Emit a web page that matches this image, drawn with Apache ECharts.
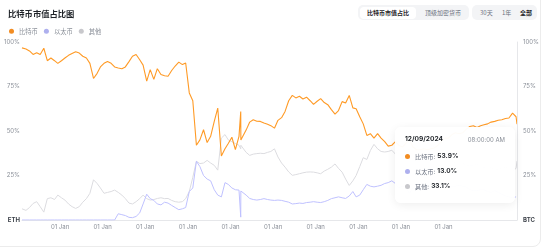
<!DOCTYPE html>
<html>
<head>
<meta charset="utf-8">
<script src="https://cdn.jsdelivr.net/npm/echarts@6/dist/echarts.min.js"></script>
<style>
  html, body { margin: 0; padding: 0; background: #fff; }
  body { width: 545px; height: 252px; position: relative; overflow: hidden; font-family: Inter, "Noto Sans CJK SC", sans-serif; }
  .card { position: absolute; left: -10px; top: -10px; width: 551px; height: 257px; border: 1px solid #ececec; border-radius: 8px; box-sizing: border-box; }
  #chart { position: absolute; left: 0; top: 0; width: 545px; height: 252px; z-index: 1; }
  .seg { position: absolute; top: 5px; height: 15px; background: #f3f4f6; border-radius: 5px; z-index: 2; }
  .seg span { position: absolute; top: 0; line-height: 15px; font-size: 6px; color: #6b7280; white-space: nowrap; font-family: "Noto Sans CJK SC", sans-serif; }
  .seg .on { color: #1f2328; font-weight: 700; }
  .seg .chip { position: absolute; top: 1.5px; height: 12px; background: #fff; border-radius: 4px; }
</style>
</head>
<body>
<div class="card"></div>
<div id="chart"></div>
<div class="seg" style="left:358px;width:111px;">
  <div class="chip" style="left:2px;width:56px;"></div>
  <span class="on" style="left:9px;">比特币市值占比</span>
  <span style="left:67px;">顶级加密货币</span>
</div>
<div class="seg" style="left:472px;width:65px;">
  <span style="left:8px;">30天</span>
  <span style="left:30px;">1年</span>
  <span class="on" style="left:48px;">全部</span>
</div>
<script>
// monthly samples (plus a one-day glitch in June 2018 and the last day)
var dates = [
  '2013-04-28', '2013-06-01', '2013-07-01', '2013-08-01', '2013-09-01', '2013-10-01', '2013-11-01', '2013-12-01',
  '2014-01-01', '2014-02-01', '2014-03-01', '2014-04-01', '2014-05-01', '2014-06-01', '2014-07-01', '2014-08-01', '2014-09-01', '2014-10-01', '2014-11-01', '2014-12-01',
  '2015-01-01', '2015-02-01', '2015-03-01', '2015-04-01', '2015-05-01', '2015-06-01', '2015-07-01', '2015-08-01', '2015-09-01', '2015-10-01', '2015-11-01', '2015-12-01',
  '2016-01-01', '2016-02-01', '2016-03-01', '2016-04-01', '2016-05-01', '2016-06-01', '2016-07-01', '2016-08-01', '2016-09-01', '2016-10-01', '2016-11-01', '2016-12-01',
  '2017-01-01', '2017-02-01', '2017-03-01', '2017-04-01', '2017-05-01', '2017-06-01', '2017-07-01', '2017-08-01', '2017-09-01', '2017-10-01', '2017-11-01', '2017-12-01',
  '2018-01-01', '2018-02-01', '2018-03-01', '2018-04-01', '2018-05-01', '2018-06-01', '2018-06-15', '2018-06-16', '2018-06-17', '2018-07-01', '2018-08-01', '2018-09-01', '2018-10-01', '2018-11-01', '2018-12-01',
  '2019-01-01', '2019-02-01', '2019-03-01', '2019-04-01', '2019-05-01', '2019-06-01', '2019-07-01', '2019-08-01', '2019-09-01', '2019-10-01', '2019-11-01', '2019-12-01',
  '2020-01-01', '2020-02-01', '2020-03-01', '2020-04-01', '2020-05-01', '2020-06-01', '2020-07-01', '2020-08-01', '2020-09-01', '2020-10-01', '2020-11-01', '2020-12-01',
  '2021-01-01', '2021-02-01', '2021-03-01', '2021-04-01', '2021-05-01', '2021-06-01', '2021-07-01', '2021-08-01', '2021-09-01', '2021-10-01', '2021-11-01', '2021-12-01',
  '2022-01-01', '2022-02-01', '2022-03-01', '2022-04-01', '2022-05-01', '2022-06-01', '2022-07-01', '2022-08-01', '2022-09-01', '2022-10-01', '2022-11-01', '2022-12-01',
  '2023-01-01', '2023-02-01', '2023-03-01', '2023-04-01', '2023-05-01', '2023-06-01', '2023-07-01', '2023-08-01', '2023-09-01', '2023-10-01', '2023-11-01', '2023-12-01',
  '2024-01-01', '2024-02-01', '2024-03-01', '2024-04-01', '2024-05-01', '2024-06-01', '2024-07-01', '2024-08-01', '2024-09-01', '2024-10-01', '2024-11-01', '2024-12-01',
  '2024-12-09'
]

var btcShare = [
  96.7, 96.1, 95, 93, 94, 93, 96.5, 89.5,
  91, 89.5, 88, 89.5, 91, 92.5, 93.5, 94.5, 93.8, 92, 91, 88,
  79.5, 82.4, 86, 88, 89, 88, 86, 85.4, 85, 86, 89, 92,
  93, 90, 87, 78, 84.5, 79, 85, 81.7, 81, 80.8, 84, 86.5,
  88.7, 87.3, 88.2, 71.4, 67, 42, 45, 50.7, 43.5, 47, 55.4, 62.9,
  36, 40, 43, 46.5, 39.5, 47, 46, 61, 45, 45, 50.5, 55, 56.3, 55.5, 55.4,
  54.5, 53.8, 53, 51.6, 56, 57.5, 61, 67, 70, 68.6, 69.5, 68,
  69, 67, 65, 66.7, 68.2, 66, 64.8, 62, 59.5, 61.5, 66.5, 65.7,
  70, 63, 62.5, 58, 54, 47.5, 48.5, 46, 48.5, 46, 44, 41.5,
  42, 44, 42, 41, 43, 45, 41, 39.5, 39.5, 40, 39.5, 40,
  40.5, 42, 44, 46, 46, 48, 49, 48.5, 49, 51, 52.5, 53,
  52, 53, 53.5, 54, 55, 55.4, 56, 56.3, 57, 57.3, 60, 58,
  53.9
]

var ethShare = [
  0, 0, 0, 0, 0, 0, 0, 0,
  0, 0, 0, 0, 0, 0, 0, 0, 0, 0, 0, 0,
  0, 0, 0, 0, 0, 0, 0, 3.5, 3, 2.5, 1.5, 1.3,
  2, 4, 9, 14.5, 12, 11, 9, 8.5, 10, 9.5, 8.2, 7,
  5.8, 6.3, 7, 16, 18, 33, 30, 25, 23, 22, 17, 14,
  13, 21, 20, 18, 17, 16.8, 16.5, 1.6, 16.3, 16, 14, 12.1, 11.5, 11.2, 11.5,
  12, 11.5, 11.2, 11, 11.2, 11, 10.5, 10, 9, 9.2, 9.5, 9.3,
  9.8, 10, 10.3, 10, 9.8, 10.3, 11, 12, 12.5, 13, 12.5, 12.1,
  13.5, 16, 13, 14, 17, 20, 19, 18.6, 19, 19.5, 20.5, 21,
  22, 20.5, 18, 19, 18.5, 15, 18, 20, 17, 17, 18, 18,
  18.5, 19, 19, 19.5, 19, 19, 19, 19.5, 19, 18.5, 17, 16.5,
  16.5, 17, 17, 16, 15.5, 16.5, 15.5, 14.5, 13.5, 13, 12.5, 13,
  13.0
]

var otherShare = [
  6.3, 5.4, 7, 9.3, 10.3, 7.5, 4.4, 12,
  12.5, 11.5, 14, 12.5, 11.2, 9, 7.5, 6.5, 7.5, 10, 12, 15,
  22.6, 20.5, 18, 15, 15.5, 16, 16.8, 15.5, 14, 12, 9.5, 9,
  10.3, 12, 14, 12, 11.2, 11.5, 12.1, 12.5, 12, 12.1, 11, 10.3,
  10, 10.3, 12, 16, 24, 33, 31.7, 32, 33.5, 32, 30.7, 28,
  46, 48, 45, 44, 43, 42, 42, 40, 42, 41, 38, 36.3, 37, 37.3, 37.5,
  37.3, 38, 38.5, 40, 35.4, 32, 29.7, 27, 25.1, 25.5, 26, 26.5,
  26.9, 27, 26.9, 26.5, 26, 27.5, 28.5, 29.7, 31.5, 29, 26.9, 23,
  19.4, 22, 25, 30, 35, 34, 39, 42.5, 40, 38.5, 38.2, 38.5,
  39.2, 37, 40, 40, 38.5, 40, 41, 40.5, 43.5, 43, 42.5, 42,
  41, 39, 37, 34.5, 35, 33, 32, 32, 32, 30.5, 30.5, 30.5,
  31.5, 30, 29.5, 30, 29.5, 28, 28.5, 29.2, 29.5, 29.7, 27.5, 29,
  33.1
]

var seriesNames = ['比特币', '以太币', '其他']
var seriesColors = ['#f28c22', '#aeb0ee', '#c8c8cc']
var tipTime = '08:00:00 AM'

var chart = echarts.init(document.getElementById('chart'))

function pairs(values) {
  return dates.map(function (d, i) { return [d, values[i]] })
}

function tipHtml(idx) {
  var parts = dates[idx].split('-')
  var vals = [btcShare[idx], ethShare[idx], otherShare[idx]]
  var html = '<div style="width:100px;font-family:Inter,\'Noto Sans CJK SC\',sans-serif;">' +
    '<div style="display:flex;justify-content:space-between;align-items:center;height:12px;margin-bottom:3.5px;">' +
    '<span style="font-size:6.6px;font-weight:700;color:#1f2328;">' + parts[1] + '/' + parts[2] + '/' + parts[0] + '</span>' +
    '<span style="font-size:6px;color:#8a8f98;">' + tipTime + '</span></div>'
  for (var k = 0; k < 3; k++) {
    html += '<div style="display:flex;align-items:center;height:15px;">' +
      '<span style="display:inline-block;width:5px;height:5px;border-radius:50%;background:' + seriesColors[k] + ';margin-right:5px;"></span>' +
      '<span style="font-size:6.2px;color:#6b7280;">' + seriesNames[k] + ':</span>' +
      '<span style="font-size:6.5px;font-weight:700;color:#1f2328;margin-left:2px;">' + vals[k].toFixed(1) + '%</span></div>'
  }
  return html + '</div>'
}

function yAxisOf(side, zeroName) {
  return {
    type: 'value',
    position: side,
    min: 0,
    max: 100,
    interval: 25,
    splitLine: { show: false },
    axisTick: { show: false },
    axisLine: { show: side === 'right', lineStyle: { color: '#e6e7ea', width: 1 } },
    axisLabel: {
      margin: side === 'right' ? 6 : 2,
      fontSize: 6,
      color: '#8a8f98',
      fontFamily: 'Inter, sans-serif',
      formatter: function (v) { return v === 0 ? '{b|' + zeroName + '}' : v + '%' },
      rich: { b: { fontSize: 6, fontWeight: 'bold', color: '#3a3f47', fontFamily: 'Inter, sans-serif' } }
    }
  }
}

chart.setOption({
  animation: false,
  title: {
    text: '比特币市值占比图',
    left: 3,
    top: 5,
    textStyle: { fontSize: 8.3, fontWeight: 'bold', color: '#1f2328', fontFamily: '"Noto Sans CJK SC", sans-serif' }
  },
  legend: {
    left: 4,
    top: 23,
    icon: 'circle',
    itemWidth: 5,
    itemHeight: 5,
    itemGap: 6,
    data: seriesNames,
    textStyle: { fontSize: 6.3, color: '#8a8f98', fontFamily: '"Noto Sans CJK SC", sans-serif' }
  },
  grid: { left: 22, right: 28, top: 42, bottom: 32, containLabel: false },
  tooltip: {
    trigger: 'axis',
    alwaysShowContent: true,
    transitionDuration: 0,
    backgroundColor: 'rgba(255,255,255,0.97)',
    borderWidth: 0,
    padding: [6, 10, 9, 10],
    extraCssText: 'box-shadow:0 2px 10px rgba(0,0,0,0.07);border-radius:6px;',
    position: function () { return [395, 127] },
    axisPointer: { type: 'line', lineStyle: { color: '#e6e7ea', width: 1, type: 'solid' } },
    formatter: function (params) { return tipHtml(params[0].dataIndex) }
  },
  xAxis: {
    type: 'time',
    min: dates[0],
    max: dates[dates.length - 1],
    splitNumber: 12,
    splitLine: { show: false },
    axisTick: { show: false },
    axisLine: { lineStyle: { color: '#e6e7ea', width: 1 } },
    axisLabel: {
      fontSize: 6,
      color: '#8a8f98',
      fontFamily: 'Inter, sans-serif',
      align: 'left',
      margin: 4,
      hideOverlap: false,
      showMinLabel: false,
      showMaxLabel: false,
      formatter: function (value) {
        var d = new Date(value)
        if (d.getMonth() === 0 && d.getDate() === 1 && d.getFullYear() < 2024) return '01 Jan'
        return ''
      }
    }
  },
  yAxis: [yAxisOf('left', 'ETH'), yAxisOf('right', 'BTC')],
  series: [
    { name: seriesNames[2], type: 'line', data: pairs(otherShare), symbol: 'none', color: seriesColors[2], lineStyle: { width: 1 }, z: 2 },
    { name: seriesNames[1], type: 'line', data: pairs(ethShare), symbol: 'none', color: seriesColors[1], lineStyle: { width: 1 }, z: 3 },
    { name: seriesNames[0], type: 'line', data: pairs(btcShare), symbol: 'none', color: seriesColors[0], lineStyle: { width: 1.1 }, z: 4 }
  ]
})

chart.dispatchAction({ type: 'showTip', seriesIndex: 2, dataIndex: dates.length - 1 })
</script>
</body>
</html>
